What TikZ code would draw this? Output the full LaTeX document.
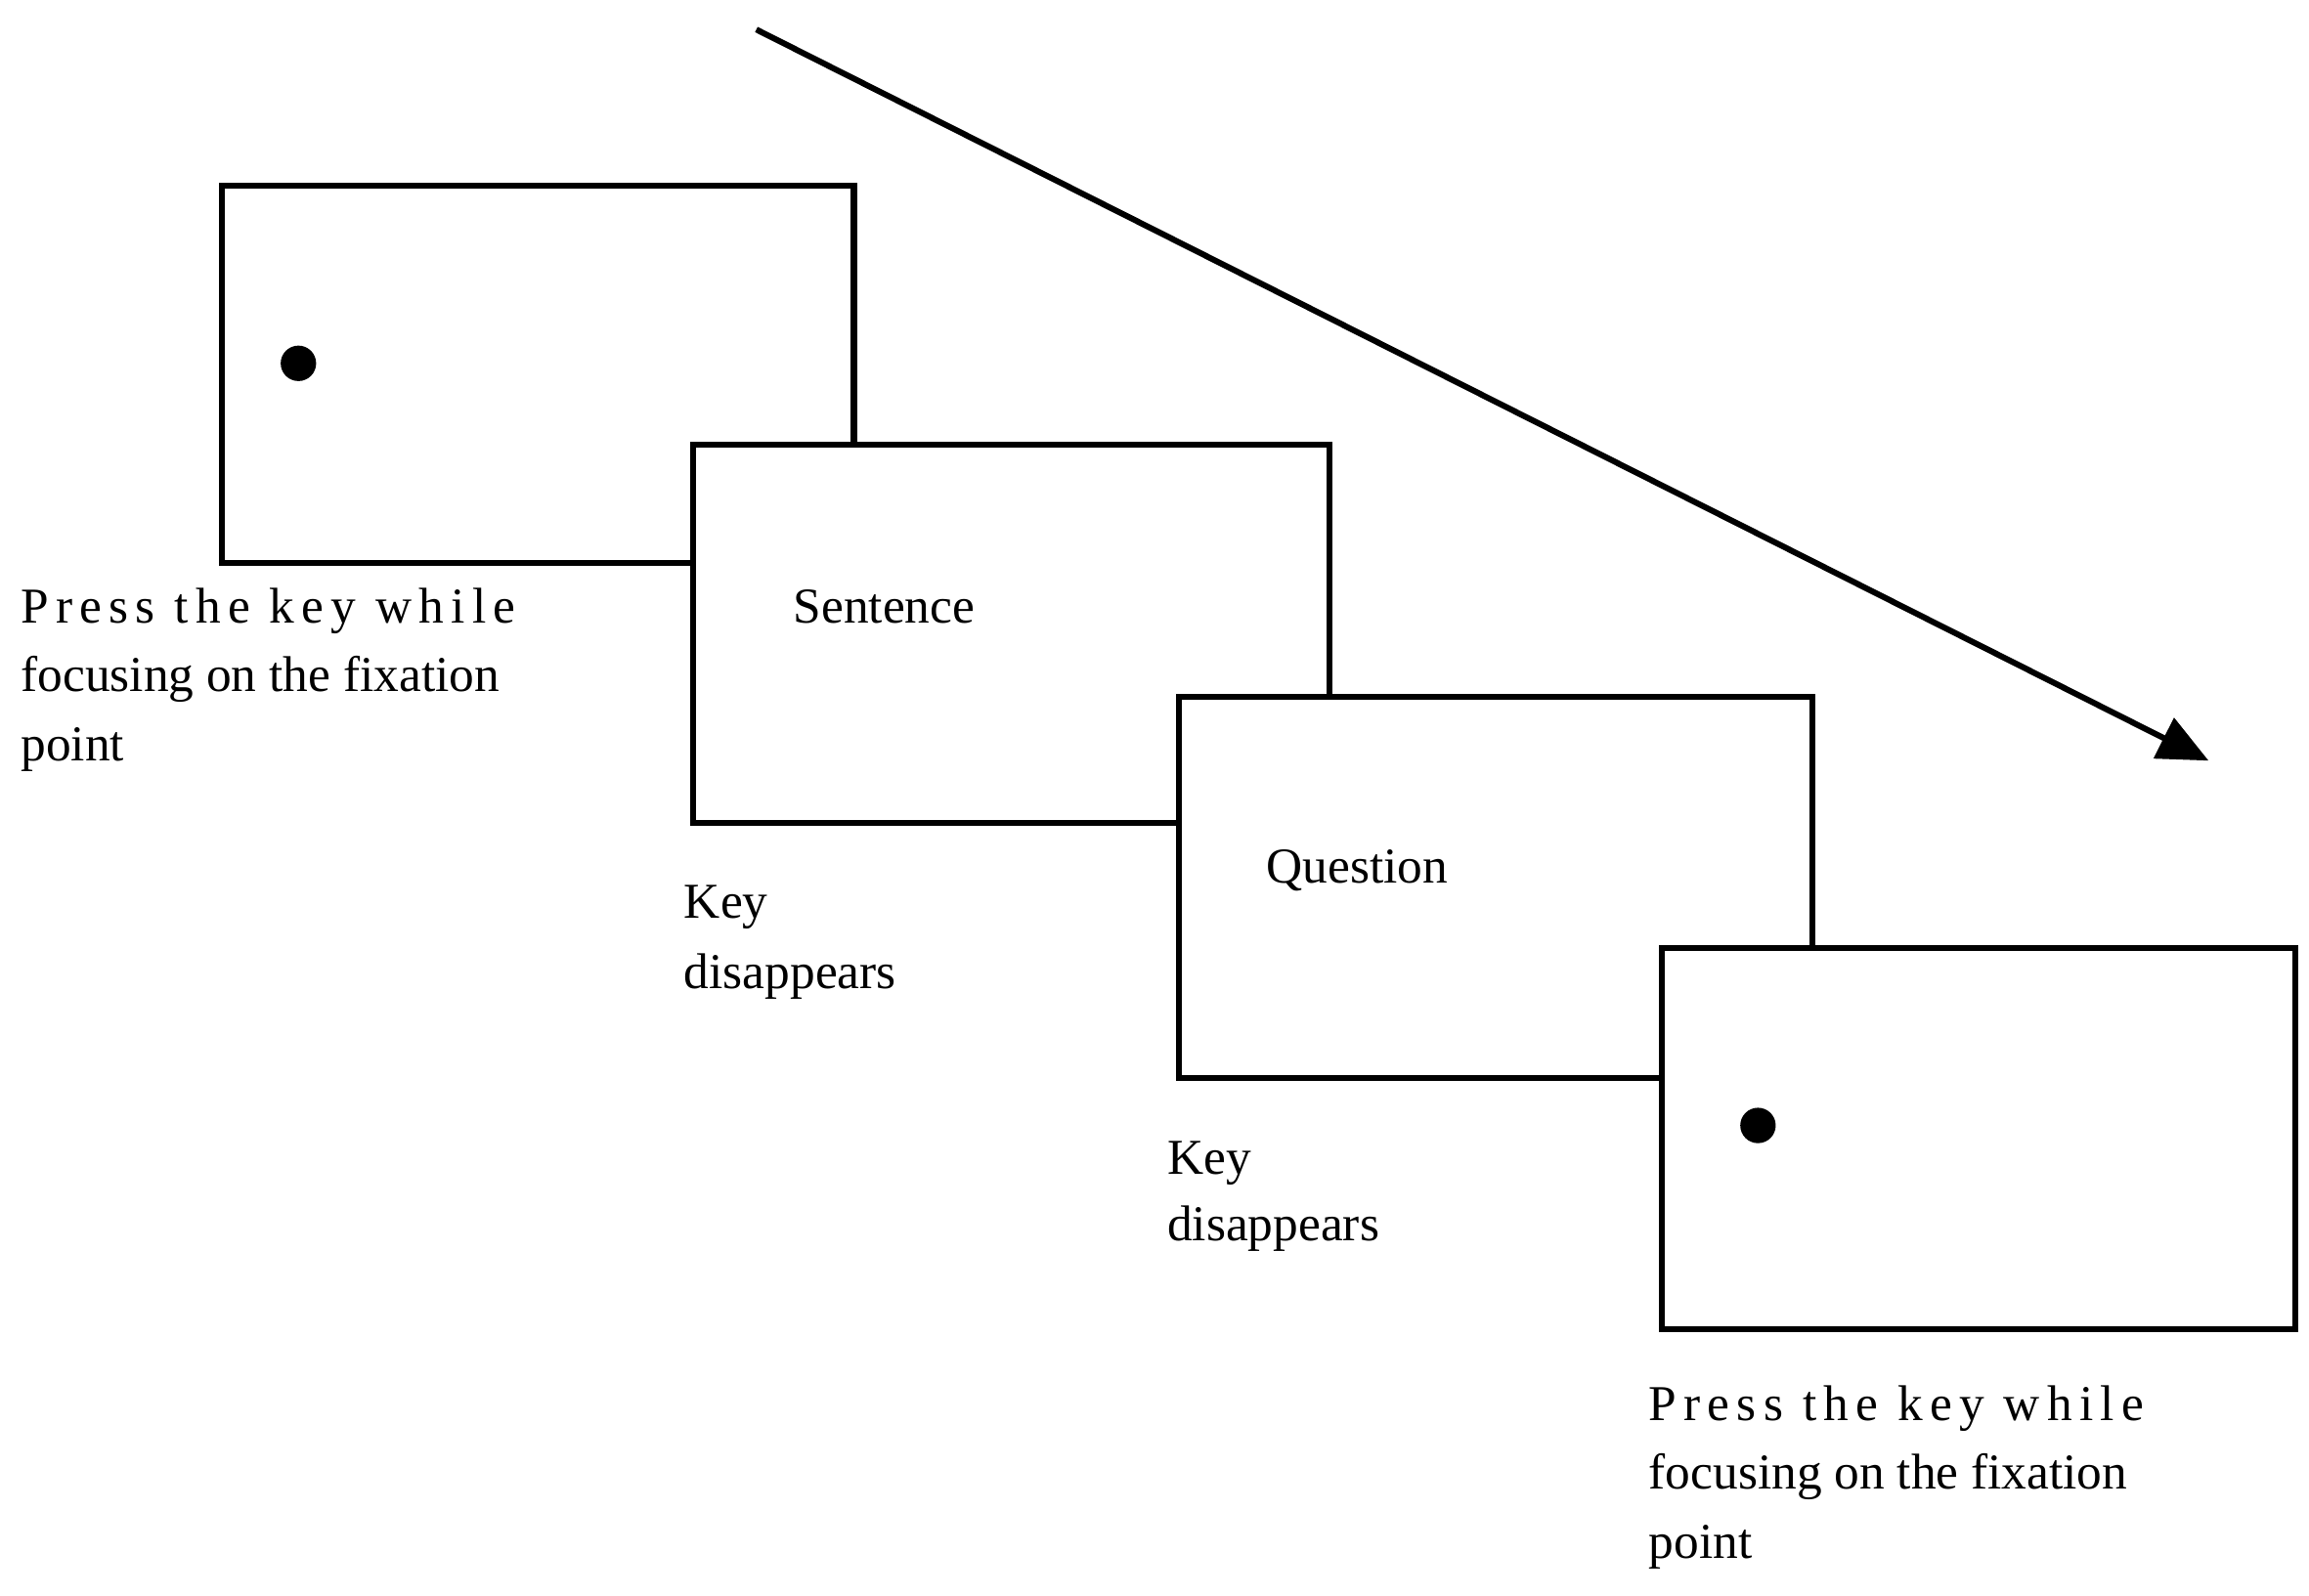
\documentclass[tikz,border=0pt]{standalone}
\usepackage{fontspec}
\setmainfont{Liberation Serif}
\usetikzlibrary{arrows.meta}
\begin{document}
\begin{tikzpicture}[x=1pt,y=-1pt,
  scr/.style={draw,line width=4pt,fill=white},
  lbl/.style={anchor=base west,inner sep=0pt,font=\fontsize{34}{40}\selectfont},
  sp/.style={lbl,font=\fontsize{34}{40}\selectfont\addfontfeatures{LetterSpace=14}}]
\useasboundingbox (0,0) rectangle (1563,1080);
\draw[line width=4pt,-{Triangle[length=34pt,width=30pt]}] (512,20) coordinate (a0) -- (1495,515) coordinate (a1);
\draw[scr] (150,126) rectangle (578,381) coordinate (b1);
\fill (202,246) circle (12) node (d1) {};
\draw[scr] (469,301) rectangle (900,557) coordinate (b2);
\draw[scr] (798,472) rectangle (1227,730) coordinate (b3);
\draw[scr] (1125,642) rectangle (1554,900) coordinate (b4);
\fill (1190,762) circle (12) node (d4) {};
\node[lbl] (s) at (537,422) {Sentence};
\node[lbl] (q) at (857,598) {Question};
\node[sp] (t1) at (14,422) {Press the key while};
\node[lbl] (t2) at (14,468) {focusing on the fixation};
\node[lbl] (t3) at (14,515) {point};
\node[lbl] (k1) at (463,622) {Key};
\node[lbl] (k2) at (463,669) {disappears};
\node[lbl] (k3) at (790,795) {Key};
\node[lbl] (k4) at (790,840) {disappears};
\node[sp] (u1) at (1116,962) {Press the key while};
\node[lbl] (u2) at (1116,1008) {focusing on the fixation};
\node[lbl] (u3) at (1116,1055) {point};
\end{tikzpicture}
\end{document}
